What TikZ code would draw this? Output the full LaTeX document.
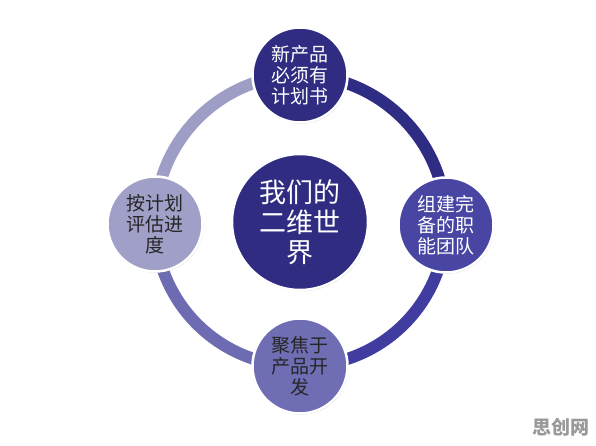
\documentclass[tikz,border=0pt]{standalone}
\usepackage{fontspec}
\setmainfont{Noto Sans CJK SC}
\usetikzlibrary{shadows}

\definecolor{ringA}{HTML}{2F2C84}
\definecolor{ringB}{HTML}{403CA0}
\definecolor{ringC}{HTML}{6D6BB1}
\definecolor{ringD}{HTML}{9E9DC6}
\definecolor{planc}{HTML}{2F2C82}
\definecolor{teamc}{HTML}{4845A3}
\definecolor{focusc}{HTML}{6F6DB3}
\definecolor{trackc}{HTML}{A09FC8}

\begin{document}
\begin{tikzpicture}[x=1pt,y=1pt,
  arcline/.style={line width=12pt},
  ball/.style={circle,draw=white,line width=2.5pt,minimum size=95pt,inner sep=0pt,align=center,
    drop shadow={shadow xshift=0.8pt,shadow yshift=-1.2pt,opacity=0.35,fill=black!60},
    font=\fontsize{19}{21}\selectfont}]
\fill[white] (0,0) rectangle (596,446);
\useasboundingbox (0,0) rectangle (596,446);
\coordinate (n) at (300,371);
\coordinate (e) at (446,221);
\coordinate (s) at (300,80);
\coordinate (w) at (155,222);
\draw[arcline,ringA] (n) to[bend left=45] (e);
\draw[arcline,ringB] (e) to[bend left=45] (s);
\draw[arcline,ringC] (s) to[bend left=45] (w);
\draw[arcline,ringD] (w) to[bend left=45] (n);
\node[ball,fill=planc,text=white] (plan) at (n) {新产品\\必须有\\计划书};
\node[ball,fill=teamc,text=white] (team) at (e) {组建完\\备的职\\能团队};
\node[ball,fill=focusc,text=black!85] (focus) at (s) {聚焦于\\产品开\\发};
\node[ball,fill=trackc,text=black!85] (track) at (w) {按计划\\评估进\\度};
\node[ball,fill=planc,text=white,minimum size=136pt,font=\fontsize{27}{30}\selectfont] (world) at (300,224) {我们的\\二维世\\界};
\node[text=black!40,font=\bfseries\fontsize{19}{20}\selectfont] (mark) at (561,19) {思创网};
\end{tikzpicture}
\end{document}
